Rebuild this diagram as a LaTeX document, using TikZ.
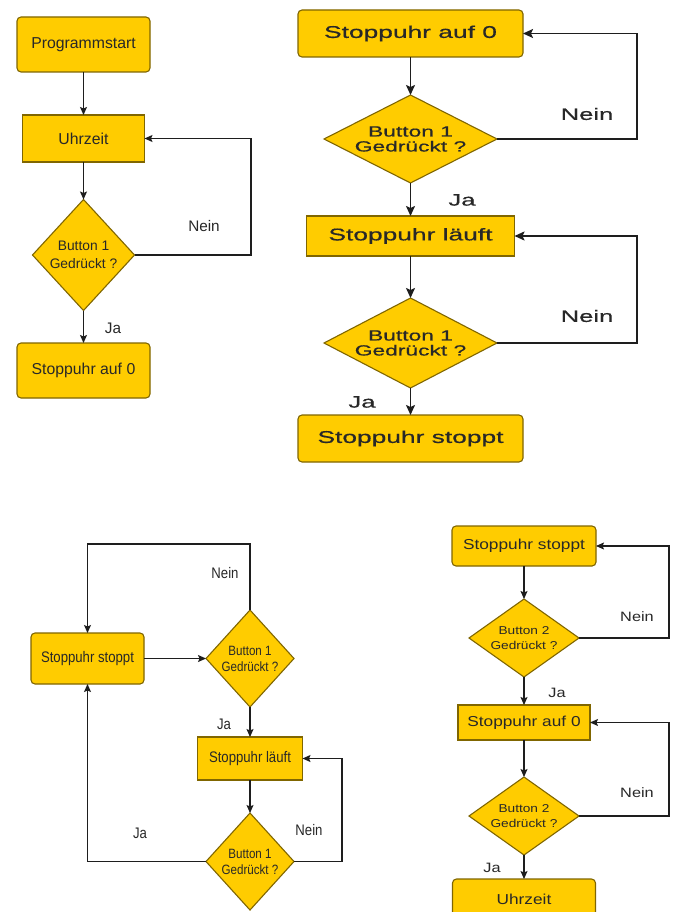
\documentclass[tikz,border=0pt]{standalone}
\usepackage{fontspec}
\setmainfont{Liberation Sans}
% one family per chart, each with its own horizontal stretch
\newfontfamily\fnA{Liberation Sans}
\newfontfamily\fnB{Liberation Sans}[FakeStretch=1.55,FakeBold=0.6]
\newfontfamily\fnC{Liberation Sans}[FakeStretch=0.86]
\newfontfamily\fnD{Liberation Sans}[FakeStretch=1.2]
\newcommand\setfs[2]{\fontsize{#1}{#2}\selectfont}
\usetikzlibrary{shapes.geometric,arrows.meta}
\definecolor{boxfill}{RGB}{255,204,0}
\definecolor{boxline}{RGB}{128,102,0}
\definecolor{txt}{RGB}{40,40,40}
\definecolor{wire}{RGB}{30,30,30}
\tikzset{
  box/.style={draw=boxline, fill=boxfill, line width=1.1pt, text=txt,
    inner sep=0pt, outer sep=0pt, align=center},
  rbox/.style={box, rounded corners=4pt},
  dia/.style={box, shape=diamond},
  dtext/.style={align=center, text=txt, inner sep=0pt},
  lbl/.style={text=txt, inner sep=0pt},
  arr/.style={draw=wire, line width=1.1pt,
    -{Stealth[length=8pt,width=7pt,inset=1.5pt]}},
  arrB/.style={draw=wire, line width=1.6pt,
    -{Stealth[length=10pt,width=9pt,inset=2pt]}},
}
\begin{document}
\begin{tikzpicture}[x=1pt,y=-1pt]
\fill[white] (0,0) rectangle (677,912);
\useasboundingbox (0,0) rectangle (677,912);

% ---- chart 1: program start ----
\begin{scope}[every node/.append style={font=\fnA\setfs{15.8}{18}}]
\node[rbox, minimum width=133, minimum height=55] (tl-start) at (83.5,44.5) {Programmstart};
\node[box, minimum width=122, minimum height=47] (tl-uhr) at (83.5,138.5) {Uhrzeit};
\node[dia, minimum width=102, minimum height=111,
  label={[dtext,font=\fnA\setfs{13.8}{18}]center:{Button 1\\Gedrückt ?}}] (tl-q) at (83.5,255) {};
\node[rbox, minimum width=133, minimum height=55] (tl-s0) at (83.5,370.5) {Stoppuhr auf 0};
\coordinate (tl-k) at (251,138.5);
\draw[arr] (tl-start.south) -- (tl-uhr.north);
\draw[arr] (tl-uhr.south) -- (tl-q.north);
\draw[arr] (tl-q.south) -- (tl-s0.north);
\draw[arr] (tl-q.east) -| (tl-k) -- (tl-uhr.east);
\node[lbl, font=\fnA\setfs{15.3}{17}] (tl-ja) at (113,328) {Ja};
\node[lbl, font=\fnA\setfs{15.3}{17}] (tl-nein) at (204,226) {Nein};
\end{scope}

% ---- chart 2: first stopwatch run ----
\begin{scope}[every node/.append style={font=\fnB\setfs{17}{19}, line width=1.5pt}]
\node[rbox, minimum width=225, minimum height=47] (tr-s0) at (410.5,33.5) {Stoppuhr auf 0};
\node[dia, minimum width=173, minimum height=88,
  label={[dtext,font=\fnB\setfs{14.7}{15}]center:{Button 1\\Gedrückt ?}}] (tr-q1) at (410.5,139) {};
\node[box, line width=1.5pt, minimum width=208, minimum height=40] (tr-run) at (410.5,236) {Stoppuhr läuft};
\node[dia, minimum width=173, minimum height=90,
  label={[dtext,font=\fnB\setfs{14.7}{15}]center:{Button 1\\Gedrückt ?}}] (tr-q2) at (410.5,343) {};
\node[rbox, minimum width=225, minimum height=47] (tr-stop) at (410.5,438.5) {Stoppuhr stoppt};
\coordinate (tr-k1) at (637,33.5);
\coordinate (tr-k2) at (637,236);
\draw[arrB] (tr-s0.south) -- (tr-q1.north);
\draw[arrB] (tr-q1.south) -- (tr-run.north);
\draw[arrB] (tr-run.south) -- (tr-q2.north);
\draw[arrB] (tr-q2.south) -- (tr-stop.north);
\draw[arrB] (tr-q1.east) -| (tr-k1) -- (tr-s0.east);
\draw[arrB] (tr-q2.east) -| (tr-k2) -- (tr-run.east);
\node[lbl, font=\fnB\setfs{16.5}{18}] (tr-nein1) at (587,114) {Nein};
\node[lbl, font=\fnB\setfs{16.5}{18}] (tr-nein2) at (587,316) {Nein};
\node[lbl, font=\fnB\setfs{16.5}{18}] (tr-ja1) at (462,200) {Ja};
\node[lbl, font=\fnB\setfs{16.5}{18}] (tr-ja2) at (362,402) {Ja};
\end{scope}

% ---- chart 3: stopwatch loop ----
\begin{scope}[every node/.append style={font=\fnC\setfs{15.3}{17}}]
\node[rbox, minimum width=113, minimum height=51] (bl-stop) at (87.5,658.5) {Stoppuhr stoppt};
\node[dia, minimum width=88, minimum height=97,
  label={[dtext,font=\fnC\setfs{13.5}{16}]center:{Button 1\\Gedrückt ?}}] (bl-q1) at (250,658.5) {};
\node[box, minimum width=105, minimum height=43] (bl-run) at (250,758.5) {Stoppuhr läuft};
\node[dia, minimum width=88, minimum height=97,
  label={[dtext,font=\fnC\setfs{13.5}{16}]center:{Button 1\\Gedrückt ?}}] (bl-q2) at (250,861.5) {};
\coordinate (bl-k1) at (87.5,544);
\coordinate (bl-k2) at (342,758.5);
\draw[arr] (bl-stop.east) -- (bl-q1.west);
\draw[arr] (bl-q1.north) |- (bl-k1) -- (bl-stop.north);
\draw[arr] (bl-q1.south) -- (bl-run.north);
\draw[arr] (bl-run.south) -- (bl-q2.north);
\draw[arr] (bl-q2.east) -| (bl-k2) -- (bl-run.east);
\draw[arr] (bl-q2.west) -| (bl-stop.south);
\node[lbl, font=\fnC\setfs{15.3}{17}] (bl-nein1) at (225,573) {Nein};
\node[lbl, font=\fnC\setfs{15.3}{17}] (bl-ja1) at (224,724) {Ja};
\node[lbl, font=\fnC\setfs{15.3}{17}] (bl-nein2) at (309,830) {Nein};
\node[lbl, font=\fnC\setfs{15.3}{17}] (bl-ja2) at (140,833) {Ja};
\end{scope}

% ---- chart 4: reset with button 2 ----
\begin{scope}[every node/.append style={font=\fnD\setfs{14.4}{16}}]
\node[rbox, minimum width=144, minimum height=40] (br-stop) at (524,546) {Stoppuhr stoppt};
\node[dia, minimum width=110, minimum height=78,
  label={[dtext,font=\fnD\setfs{11.4}{14.3}]center:{Button 2\\Gedrückt ?}}] (br-q1) at (524,638) {};
\node[box, minimum width=132, minimum height=35] (br-s0) at (524,722.5) {Stoppuhr auf 0};
\node[dia, minimum width=110, minimum height=78,
  label={[dtext,font=\fnD\setfs{11.4}{14.3}]center:{Button 2\\Gedrückt ?}}] (br-q2) at (524,816) {};
\node[rbox, minimum width=143, minimum height=40] (br-uhr) at (524,899) {Uhrzeit};
\coordinate (br-k1) at (669,546);
\coordinate (br-k2) at (669,722.5);
\draw[arr] (br-stop.south) -- (br-q1.north);
\draw[arr] (br-q1.south) -- (br-s0.north);
\draw[arr] (br-s0.south) -- (br-q2.north);
\draw[arr] (br-q2.south) -- (br-uhr.north);
\draw[arr] (br-q1.east) -| (br-k1) -- (br-stop.east);
\draw[arr] (br-q2.east) -| (br-k2) -- (br-s0.east);
\node[lbl, font=\fnD\setfs{13.6}{16}] (br-nein1) at (637,617) {Nein};
\node[lbl, font=\fnD\setfs{13.6}{16}] (br-nein2) at (637,793) {Nein};
\node[lbl, font=\fnD\setfs{13.6}{16}] (br-ja1) at (557,693) {Ja};
\node[lbl, font=\fnD\setfs{13.6}{16}] (br-ja2) at (492,868) {Ja};
\end{scope}
\end{tikzpicture}
\end{document}
